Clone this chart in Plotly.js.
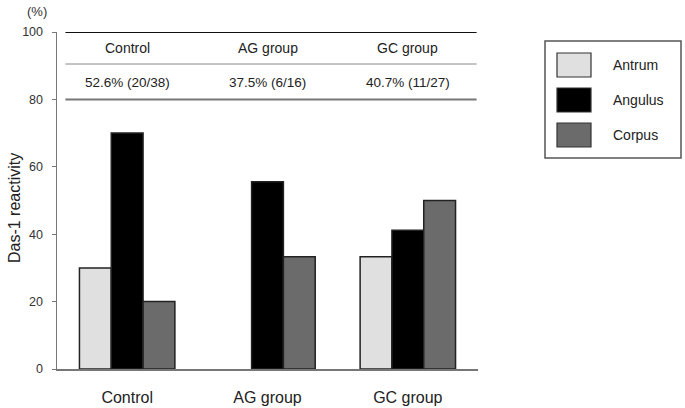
<!DOCTYPE html>
<html>
<head>
<meta charset="utf-8">
<script src="https://cdn.plot.ly/plotly-3.0.1.min.js"></script>
<style>html,body{margin:0;padding:0;background:#fff;}#chart{width:685px;height:408px;}</style>
</head>
<body>
<div id="chart"></div>
<script>
// ---- data ----
var groups = ["Control", "AG group", "GC group"];
var seriesNames = ["Antrum", "Angulus", "Corpus"];
var antrum = [30, 0, 33.3];
var angulus = [70, 55.6, 41.2];
var corpus = [20, 33.3, 50];
var tableRates = ["52.6% (20/38)", "37.5% (6/16)", "40.7% (11/27)"];
var yTicks = [0, 20, 40, 60, 80, 100];
var yTitle = "Das-1 reactivity";

var colors = ["#e0e0e0", "#000000", "#6b6b6b"];
var values = [antrum, angulus, corpus];

var traces = values.map(function (v, i) {
  return {
    type: "bar", x: groups, y: v, name: seriesNames[i],
    marker: { color: colors[i], line: { color: "#222", width: v.map(function (d) { return d === 0 ? 0 : 1.5; }) } },
    showlegend: false, hoverinfo: "x+y+name"
  };
});

var shapes = [
  { type: "line", xref: "x", yref: "y", x0: -0.44, x1: 2.49, y0: 100, y1: 100, line: { color: "#111", width: 2 } },
  { type: "line", xref: "x", yref: "y", x0: -0.44, x1: 2.49, y0: 90.5, y1: 90.5, line: { color: "#888", width: 1 } },
  { type: "line", xref: "x", yref: "y", x0: -0.44, x1: 2.49, y0: 80, y1: 80, line: { color: "#777", width: 2 } }
];

// pixel -> paper conversion helpers
var L = 57, R = 207, T = 32, B = 39, W = 685, H = 408;
var pw = W - L - R, ph = H - T - B;
function px(x) { return (x - L) / pw; }
function py(y) { return (H - B - y) / ph; }

var annotations = [
  { text: "(%)", xref: "paper", yref: "paper", x: px(37), y: py(12), xanchor: "center", yanchor: "middle", showarrow: false, font: { size: 13, color: "#333" } },
  { text: yTitle, xref: "paper", yref: "paper", x: px(14), y: py(208), xanchor: "center", yanchor: "middle", textangle: -90, showarrow: false, font: { size: 16, color: "#222" } }
];
groups.forEach(function (g, i) {
  annotations.push({ text: g, xref: "x", yref: "y", x: i, y: 95.3, showarrow: false, font: { size: 14, color: "#222" } });
  annotations.push({ text: tableRates[i], xref: "x", yref: "y", x: i, y: 84.9, showarrow: false, font: { size: 13.5, color: "#222" } });
});

// manual legend
shapes.push({ type: "rect", xref: "paper", yref: "paper", x0: px(545), x1: px(681), y0: py(158), y1: py(41), line: { color: "#555", width: 1.5 }, fillcolor: "rgba(0,0,0,0)" });
seriesNames.forEach(function (n, i) {
  var top = 53 + i * 35;
  shapes.push({ type: "rect", xref: "paper", yref: "paper", x0: px(557), x1: px(591), y0: py(top + 24), y1: py(top), line: { color: "#333", width: 1.2 }, fillcolor: colors[i] });
  annotations.push({ text: n, xref: "paper", yref: "paper", x: px(611), y: py(top + 12), xanchor: "left", yanchor: "middle", showarrow: false, font: { size: 14, color: "#222" } });
});

var layout = {
  width: 685, height: 408,
  margin: { l: L, r: R, t: T, b: B, pad: 0 },
  paper_bgcolor: "#fff", plot_bgcolor: "#fff",
  font: { family: "Liberation Sans, Arial, sans-serif", color: "#333" },
  barmode: "group", bargap: 0.32, bargroupgap: 0,
  xaxis: {
    type: "category", range: [-0.5, 2.5], showgrid: false, zeroline: false,
    showline: true, linecolor: "#777", linewidth: 1.5, ticks: "",
    tickfont: { size: 16, color: "#222" }, ticklabelstandoff: 13
  },
  yaxis: {
    range: [0, 100], tickvals: yTicks, showgrid: false, zeroline: false,
    showline: true, linecolor: "#777", linewidth: 1.5, ticks: "outside", ticklen: 4, tickcolor: "#777",
    tickfont: { size: 12.5, color: "#333" }, ticklabelstandoff: 6
  },
  shapes: shapes, annotations: annotations
};

Plotly.newPlot("chart", traces, layout, { displayModeBar: false, staticPlot: true });
</script>
</body>
</html>
